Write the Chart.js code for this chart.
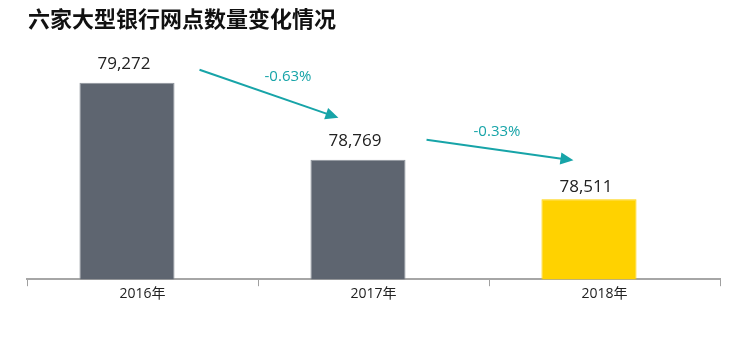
<!DOCTYPE html>
<html>
<head>
<meta charset="utf-8">
<script src="https://cdn.jsdelivr.net/npm/chart.js@4.4.1/dist/chart.umd.min.js"></script>
<style>
  html, body { margin: 0; padding: 0; background: #fff; }
  #wrap { position: relative; width: 750px; height: 355px; }
  #title { position: absolute; left: 28px; top: 6px; font: bold 22px/22px "Noto Sans CJK SC", sans-serif; color: #111; white-space: nowrap; }
  canvas { position: absolute; left: 0; top: 0; }
</style>
</head>
<body>
<div id="wrap">
  <canvas id="c" width="750" height="355"></canvas>
  <div id="title">六家大型银行网点数量变化情况</div>
</div>
<script>
const categories = ['2016年', '2017年', '2018年'];
const branchCounts = [79272, 78769, 78511];
const barColors = ['#5e6570', '#5e6570', '#ffd200'];
const barBorders = ['#8e949b', '#8e949b', '#ffd200'];
const yMin = 77990;
const yMax = 79590;

const teal = '#17a4a8';

function pctChange(a, b) {
  return ((b - a) / a * 100).toFixed(2) + '%';
}

const valueLabelPlugin = {
  id: 'valueLabels',
  afterDatasetsDraw(chart) {
    const ctx = chart.ctx;
    const meta = chart.getDatasetMeta(0);
    const gaps = [13, 13, 7];
    ctx.save();
    ctx.font = '17px "Open Sans", sans-serif';
    ctx.fillStyle = '#222';
    ctx.textAlign = 'center';
    ctx.textBaseline = 'bottom';
    meta.data.forEach((bar, i) => {
      ctx.fillText(branchCounts[i].toLocaleString('en-US'), bar.x - 3, bar.y - gaps[i] + 3);
    });
    ctx.restore();
  }
};

const arrowPlugin = {
  id: 'arrows',
  afterDatasetsDraw(chart) {
    const ctx = chart.ctx;
    const meta = chart.getDatasetMeta(0);
    const el = meta.data;
    const specs = [
      { from: 0, to: 1, sx: 25, sy: -13, ex: 28, ey: -42, lx: 19, ly: -17 },
      { from: 1, to: 2, sx: 21, sy: -20, ex: 32, ey: -39, lx: -3, ly: -18.5 }
    ];
    ctx.save();
    specs.forEach(s => {
      const a = el[s.from], b = el[s.to];
      const x1 = a.x + a.width / 2 + s.sx, y1 = a.y + s.sy;
      const x2 = b.x - b.width / 2 + s.ex, y2 = b.y + s.ey;
      const ang = Math.atan2(y2 - y1, x2 - x1);
      const headLen = 13, headHalf = 6;
      const bx = x2 - headLen * Math.cos(ang), by = y2 - headLen * Math.sin(ang);
      ctx.strokeStyle = teal;
      ctx.fillStyle = teal;
      ctx.lineWidth = 2;
      ctx.beginPath();
      ctx.moveTo(x1, y1);
      ctx.lineTo(bx + Math.cos(ang), by + Math.sin(ang));
      ctx.stroke();
      ctx.beginPath();
      ctx.moveTo(x2, y2);
      ctx.lineTo(bx - headHalf * Math.sin(ang), by + headHalf * Math.cos(ang));
      ctx.lineTo(bx + headHalf * Math.sin(ang), by - headHalf * Math.cos(ang));
      ctx.closePath();
      ctx.fill();
      ctx.font = '15px "Open Sans", sans-serif';
      ctx.textAlign = 'center';
      ctx.textBaseline = 'middle';
      ctx.fillText(pctChange(branchCounts[s.from], branchCounts[s.to]), (x1 + x2) / 2 + s.lx, (y1 + y2) / 2 + s.ly);
    });
    ctx.restore();
  }
};

new Chart(document.getElementById('c'), {
  type: 'bar',
  data: {
    labels: categories,
    datasets: [
      {
        label: '网点数量',
        data: branchCounts,
        backgroundColor: barColors,
        borderColor: barBorders,
        borderWidth: 1,
        borderSkipped: 'bottom',
        categoryPercentage: 0.2686,
        barPercentage: 3.065
      },
      {
        label: 'spacer',
        data: [null, null, null],
        backgroundColor: 'rgba(0,0,0,0)',
        categoryPercentage: 0.2686,
        barPercentage: 3.065
      }
    ]
  },
  options: {
    responsive: false,
    animation: false,
    devicePixelRatio: 1,
    layout: { padding: { top: 34, left: 27, right: 30, bottom: 54 } },
    plugins: {
      legend: { display: false },
      tooltip: { enabled: false },
      title: { display: false }
    },
    scales: {
      y: {
        display: false,
        min: yMin,
        max: yMax
      },
      x: {
        grid: {
          display: true,
          offset: true,
          drawOnChartArea: false,
          drawTicks: true,
          tickLength: 7,
          color: '#a0a0a0',
          lineWidth: 1
        },
        border: { display: true, color: '#a6a6a6', width: 2 },
        ticks: {
          color: '#222',
          padding: -1,
          font: { family: '"Open Sans", "Noto Sans CJK SC", sans-serif', size: 14 }
        }
      }
    }
  },
  plugins: [valueLabelPlugin, arrowPlugin]
});
</script>
</body>
</html>
